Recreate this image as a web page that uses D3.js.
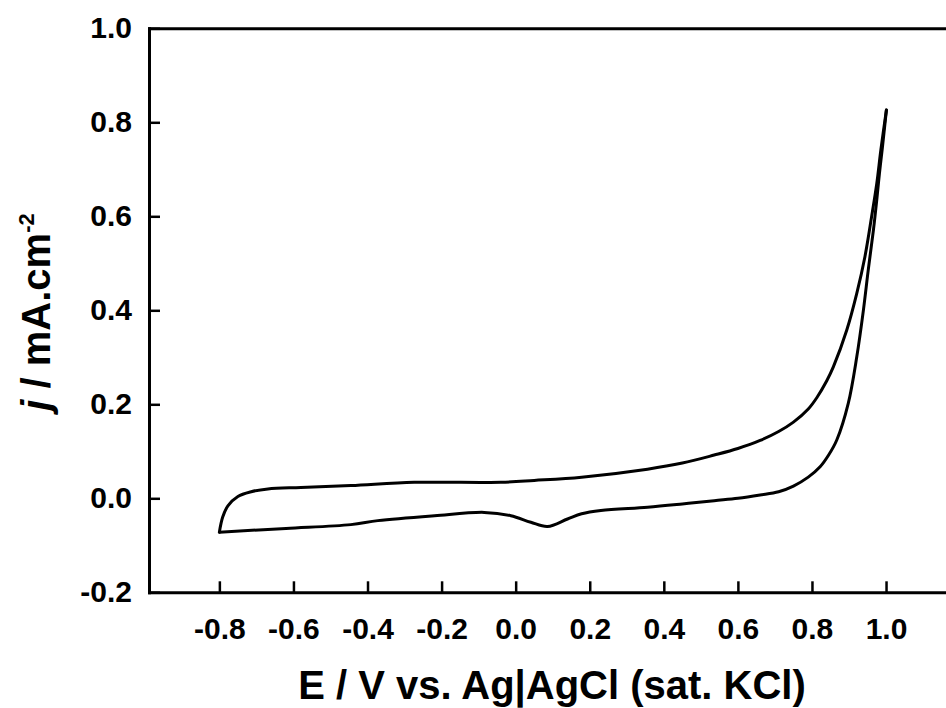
<!DOCTYPE html>
<html lang="en">
<head>
    <meta charset="UTF-8">
    <title>Cyclic voltammogram</title>
    <script src="https://d3js.org/d3.v7.min.js"></script>
    <style>
        body { margin: 0; background: #fff; }
        text { font-family: "Liberation Sans", Arial, sans-serif; font-weight: bold; fill: #000; }
    </style>
</head>
<body>

<svg width="946" height="708"></svg>

<script>
    // anodic branch, -0.8 V -> 1.0 V
    var upperE = [-0.800, -0.791, -0.777, -0.750, -0.714, -0.669, -0.580, -0.445, -0.274, -0.040,
                  0.050, 0.178, 0.356, 0.450, 0.536, 0.600, 0.660, 0.710, 0.750, 0.790,
                  0.813, 0.840, 0.858, 0.894, 0.921, 0.943, 0.961, 0.975, 0.986, 1.001];
    var upperJ = [-0.072, -0.040, -0.016, 0.004, 0.014, 0.020, 0.023, 0.027, 0.034, 0.034,
                  0.038, 0.045, 0.062, 0.075, 0.092, 0.106, 0.123, 0.142, 0.162, 0.190,
                  0.214, 0.250, 0.280, 0.358, 0.436, 0.514, 0.599, 0.670, 0.741, 0.826];

    // return branch, 1.0 V -> -0.8 V
    var lowerE = [1.001, 0.990, 0.982, 0.975, 0.966, 0.952, 0.939, 0.921, 0.898, 0.867,
                  0.845, 0.822, 0.790, 0.750, 0.710, 0.660, 0.600, 0.536, 0.450, 0.356,
                  0.230, 0.178, 0.140, 0.086, 0.041, -0.013, -0.085, -0.219, -0.372, -0.445,
                  -0.620, -0.800];
    var lowerJ = [0.826, 0.745, 0.690, 0.635, 0.571, 0.486, 0.401, 0.301, 0.202, 0.124,
                  0.092, 0.067, 0.045, 0.026, 0.014, 0.007, 0.000, -0.005, -0.012, -0.019,
                  -0.026, -0.033, -0.044, -0.060, -0.051, -0.037, -0.030, -0.037, -0.0475, -0.056,
                  -0.064, -0.072];

    var xTicks = [-0.8, -0.6, -0.4, -0.2, 0.0, 0.2, 0.4, 0.6, 0.8, 1.0];
    var xTickLabels = ["-0.8", "-0.6", "-0.4", "-0.2", "0.0", "0.2", "0.4", "0.6", "0.8", "1.0"];
    var yTicks = [-0.2, 0.0, 0.2, 0.4, 0.6, 0.8, 1.0];
    var yTickLabels = ["-0.2", "0.0", "0.2", "0.4", "0.6", "0.8", "1.0"];

    var svg = d3.select("svg");

    var x = d3.scaleLinear()
        .domain([-0.99, 1.17])
        .range([149, 949]);

    var y = d3.scaleLinear()
        .domain([-0.2, 1.0])
        .range([592.3, 28.3]);

    // bottom axis
    var gx = svg.append("g")
        .attr("transform", "translate(0," + y(-0.2) + ")")
        .call(d3.axisBottom(x)
            .tickValues(xTicks)
            .tickFormat(function (d, i) { return xTickLabels[i]; })
            .tickSizeInner(-11)
            .tickSizeOuter(0)
            .tickPadding(25));

    // left axis
    var gy = svg.append("g")
        .attr("transform", "translate(" + x(-0.99) + ",0)")
        .call(d3.axisLeft(y)
            .tickValues(yTicks)
            .tickFormat(function (d, i) { return yTickLabels[i]; })
            .tickSizeInner(-11)
            .tickSizeOuter(0)
            .tickPadding(17));

    // top frame line, no ticks
    var gt = svg.append("g")
        .attr("transform", "translate(0," + y(1.0) + ")")
        .call(d3.axisTop(x).tickValues([]).tickSizeOuter(0));

    [gx, gy, gt].forEach(function (g) {
        g.select(".domain")
            .attr("stroke", "#000")
            .attr("stroke-width", 3)
            .attr("stroke-linecap", "square");
        g.selectAll(".tick line")
            .attr("stroke", "#000")
            .attr("stroke-width", 2.5);
        g.selectAll(".tick text")
            .style("font-size", "30px");
    });

    var line = d3.line()
        .x(function (d) { return x(d[0]); })
        .y(function (d) { return y(d[1]); })
        .curve(d3.curveCatmullRom.alpha(0.5));

    [d3.zip(upperE, upperJ), d3.zip(lowerE, lowerJ)].forEach(function (branch) {
        svg.append("path")
            .datum(branch)
            .attr("fill", "none")
            .attr("stroke", "#000")
            .attr("stroke-width", 3)
            .attr("stroke-linejoin", "round")
            .attr("stroke-linecap", "round")
            .attr("d", line);
    });

    // axis titles
    svg.append("text")
        .attr("x", 552)
        .attr("y", 699)
        .attr("text-anchor", "middle")
        .style("font-size", "40px")
        .text("E / V vs. Ag|AgCl (sat. KCl)");

    var ytitle = svg.append("text")
        .attr("transform", "translate(50,312) rotate(-90)")
        .attr("text-anchor", "middle")
        .style("font-size", "40px");
    ytitle.append("tspan").style("font-style", "italic").text("j");
    ytitle.append("tspan").text(" / mA.cm");
    ytitle.append("tspan").attr("dy", -16).style("font-size", "22px").text("-2");
</script>

</body>
</html>
